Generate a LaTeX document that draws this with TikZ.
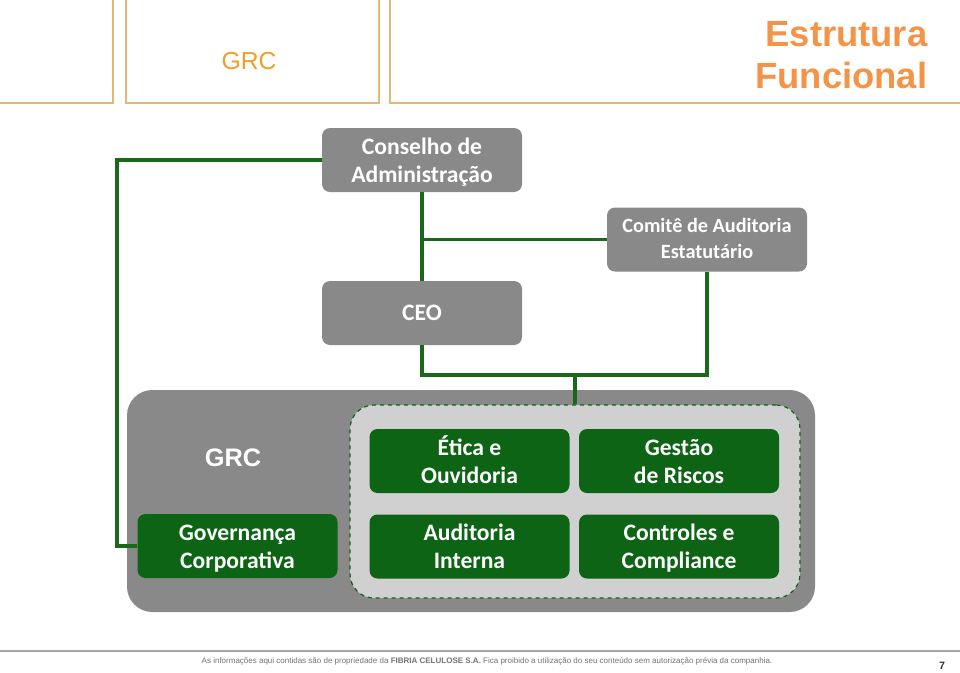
\documentclass[tikz,border=0pt]{standalone}
\usepackage{fontspec}
\setmainfont{Carlito}
\newfontfamily\arialfont{Liberation Sans}
\usetikzlibrary{positioning,calc}

\definecolor{boxgray}{RGB}{137,137,137}
\definecolor{innergray}{RGB}{208,208,208}
\definecolor{grcgreen}{RGB}{12,100,20}
\definecolor{linegreen}{RGB}{26,104,26}
\definecolor{headline}{RGB}{230,182,116}
\definecolor{grcorange}{RGB}{240,158,40}
\definecolor{titleorange}{RGB}{243,148,72}

\begin{document}
\begin{tikzpicture}[x=0.75pt,y=-0.75pt,
  graybox/.style={fill=boxgray,rounded corners=6pt,minimum width=150pt,minimum height=48pt,
    text=white,align=center,font=\bfseries\fontsize{17.7}{21}\selectfont,inner sep=2pt},
  twoline/.style={text height=33pt,text depth=0pt},
  greenbox/.style={graybox,twoline,fill=grcgreen},
  link/.style={draw=linegreen,line width=2.3pt},
  header/.style={draw=headline,line width=1.4pt}]
  \useasboundingbox (0,0) rectangle (960,672);
  % header
  \draw[header] (113,0) -- (113,103) -- (0,103);
  \draw[header] (126,0) -- (126,103) -- (379,103) -- (379,0);
  \draw[header] (390,0) -- (390,103) -- (960,103);
  \node[text=grcorange,font=\arialfont\fontsize{18.5}{22}\selectfont] (hgrc) at (249,61) {GRC};
  \node[text=titleorange,font=\arialfont\bfseries\fontsize{27.3}{31.5}\selectfont,align=right,anchor=east] (title) at (932,55) {Estrutura\\Funcional};

  % grc area
  \node[fill=boxgray,rounded corners=19pt,minimum width=516pt,minimum height=166.5pt] (grc) at (471,501) {};
  \node[fill=innergray,draw=grcgreen,dashed,line width=0.9pt,rounded corners=18pt,
    minimum width=337.5pt,minimum height=144.75pt] (inner) at (575,501.5) {};
  \node[text=white,font=\arialfont\bfseries\fontsize{19}{22}\selectfont] (grctxt) at (233,458) {GRC};

  % boxes
  \node[graybox,twoline] (cons) at (422,160) {Conselho de\\Administração};
  \node[graybox,font=\bfseries\fontsize{15.2}{19}\selectfont,text height=28pt,text depth=0pt] (comite) at (707,239.5) {Comitê de Auditoria\\Estatutário};
  \node[graybox] (ceo) at (422,313) {CEO};
  \node[greenbox] (etica) at (469.5,461) {Ética e\\Ouvidoria};
  \node[greenbox] (riscos) at (679,461) {Gestão\\de Riscos};
  \node[greenbox] (gov) at (237.5,546) {Governança\\Corporativa};
  \node[greenbox] (audit) at (469.5,546.5) {Auditoria\\Interna};
  \node[greenbox] (contr) at (679,546.5) {Controles e\\Compliance};

  % connectors
  \coordinate (gl) at (117,546);
  \coordinate (bus) at (575,375);
  \draw[link] (cons.west) -| (gl) -- (gov.west);
  \draw[link] (cons.south) -- (ceo.north);
  \draw[link] (cons.south |- comite.west) -- (comite.west);
  \draw[link] (ceo.south) |- (bus) -| (comite.south);
  \draw[link] (bus) -- (bus |- inner.north);

  % footer
  \draw[gray!70,line width=0.8pt] (0,651) -- (960,651);
  \node[text=gray!90!black,font=\arialfont\fontsize{6}{7}\selectfont] (foot) at (487,661)
    {As informações aqui contidas são de propriedade da \textbf{FIBRIA CELULOSE S.A.} Fica proibido a utilização do seu conteúdo sem autorização prévia da companhia.};
  \node[font=\arialfont\bfseries\fontsize{8}{9}\selectfont,text=black!80] (page) at (942,666) {7};
\end{tikzpicture}
\end{document}
